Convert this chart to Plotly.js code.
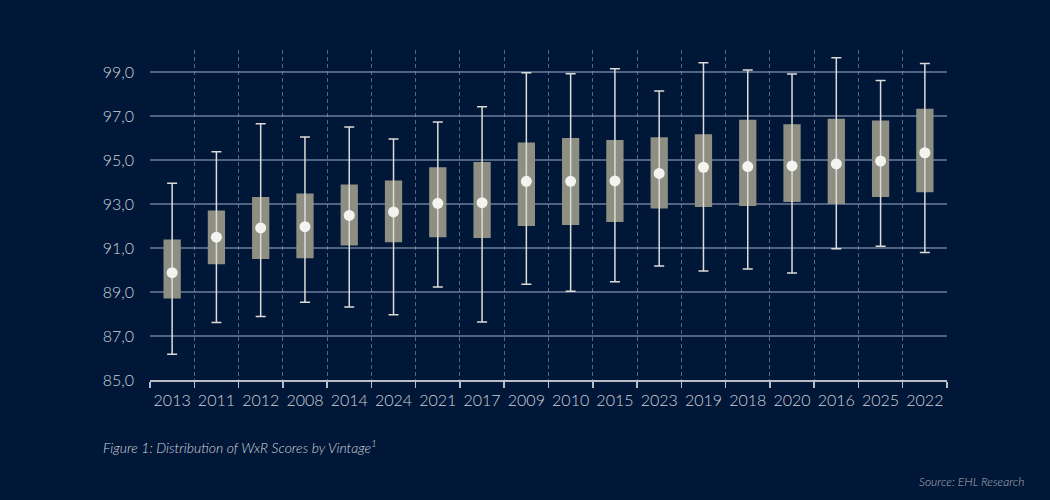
<!DOCTYPE html>
<html>
<head>
<meta charset="utf-8">
<script src="https://cdn.plot.ly/plotly-3.0.1.min.js"></script>
<style>
  html, body { margin: 0; padding: 0; background: #011738; }
  #chart { width: 1050px; height: 500px; }
</style>
</head>
<body>
<div id="chart"></div>
<script>
// WxR score distribution per vintage, ordered by central score
const vintages = ['2013','2011','2012','2008','2014','2024','2021','2017','2009',
                  '2010','2015','2023','2019','2018','2020','2016','2025','2022'];
const whiskerLow  = [86.17, 87.61, 87.89, 88.53, 88.32, 87.97, 89.23, 87.64, 89.35,
                     89.03, 89.47, 90.18, 89.95, 90.05, 89.86, 90.97, 91.08, 90.79];
const boxLow      = [88.71, 90.26, 90.50, 90.53, 91.11, 91.26, 91.49, 91.45, 92.00,
                     92.05, 92.18, 92.80, 92.86, 92.91, 93.09, 93.00, 93.32, 93.53];
const centre      = [89.88, 91.49, 91.91, 91.97, 92.48, 92.64, 93.03, 93.06, 94.03,
                     94.03, 94.05, 94.39, 94.67, 94.70, 94.73, 94.82, 94.95, 95.33];
const boxHigh     = [91.39, 92.70, 93.32, 93.48, 93.89, 94.07, 94.67, 94.91, 95.79,
                     96.00, 95.91, 96.03, 96.17, 96.83, 96.62, 96.88, 96.79, 97.33];
const whiskerHigh = [93.94, 95.38, 96.65, 96.05, 96.50, 95.95, 96.73, 97.42, 98.97,
                     98.92, 99.15, 98.14, 99.42, 99.09, 98.91, 99.65, 98.61, 99.39];

const bg = '#011738';
const textColor = '#ced1d8';
const fontFamily = 'Lato, "Noto Sans", sans-serif';

// interquartile boxes
const boxes = {
  type: 'bar',
  x: vintages,
  base: boxLow,
  y: boxHigh.map((h, i) => h - boxLow[i]),
  width: 0.39,
  marker: { color: '#8e8f82', line: { width: 0 } },
  hoverinfo: 'skip',
  showlegend: false
};

// whiskers with caps, and the central score dot
const whiskers = {
  type: 'scatter',
  mode: 'markers',
  x: vintages,
  y: centre,
  marker: { size: 11, color: '#f3f3ef' },
  error_y: {
    type: 'data',
    symmetric: false,
    array: whiskerHigh.map((h, i) => h - centre[i]),
    arrayminus: whiskerLow.map((l, i) => centre[i] - l),
    color: '#dcdcd6',
    thickness: 1.5,
    width: 5
  },
  showlegend: false
};

const layout = {
  width: 1050,
  height: 500,
  paper_bgcolor: bg,
  plot_bgcolor: bg,
  margin: { l: 150, r: 103, t: 50, b: 120 },
  font: { family: fontFamily, color: textColor, size: 16, weight: 300 },
  separators: ',.',
  showlegend: false,
  xaxis: {
    type: 'category',
    range: [-0.5, vintages.length - 0.5],
    tickson: 'boundaries',
    tickangle: 0,
    ticks: 'outside',
    ticklen: 6,
    tickwidth: 1.5,
    tickcolor: '#b9bdc6',
    showline: true,
    linecolor: '#b9bdc6',
    linewidth: 1.5,
    showgrid: true,
    gridcolor: 'rgba(160,170,190,0.55)',
    griddash: '4px,3px',
    gridwidth: 1,
    ticklabelstandoff: 5,
    tickfont: { size: 16, color: textColor },
    fixedrange: true
  },
  yaxis: {
    range: [85, 100],
    tick0: 85,
    dtick: 2,
    tickformat: '.1f',
    showgrid: true,
    gridcolor: 'rgba(150,162,185,0.55)',
    gridwidth: 1.2,
    zeroline: false,
    showline: false,
    ticks: '',
    ticklabelstandoff: 15,
    tickfont: { size: 16, color: textColor },
    fixedrange: true
  },
  annotations: [
    {
      text: '<i>Figure 1: Distribution of WxR Scores by Vintage<sup>1</sup></i>',
      xref: 'paper', yref: 'paper',
      x: -0.062, y: -0.2,
      xanchor: 'left', yanchor: 'middle',
      showarrow: false,
      font: { size: 14, color: '#d2d5db' }
    },
    {
      text: '<i>Source: EHL Research</i>',
      xref: 'paper', yref: 'paper',
      x: 1.1, y: -0.309,
      xanchor: 'right', yanchor: 'middle',
      showarrow: false,
      font: { size: 12, color: '#aeb3bf' }
    }
  ]
};

Plotly.newPlot('chart', [boxes, whiskers], layout, { displayModeBar: false, staticPlot: true });
</script>
</body>
</html>
